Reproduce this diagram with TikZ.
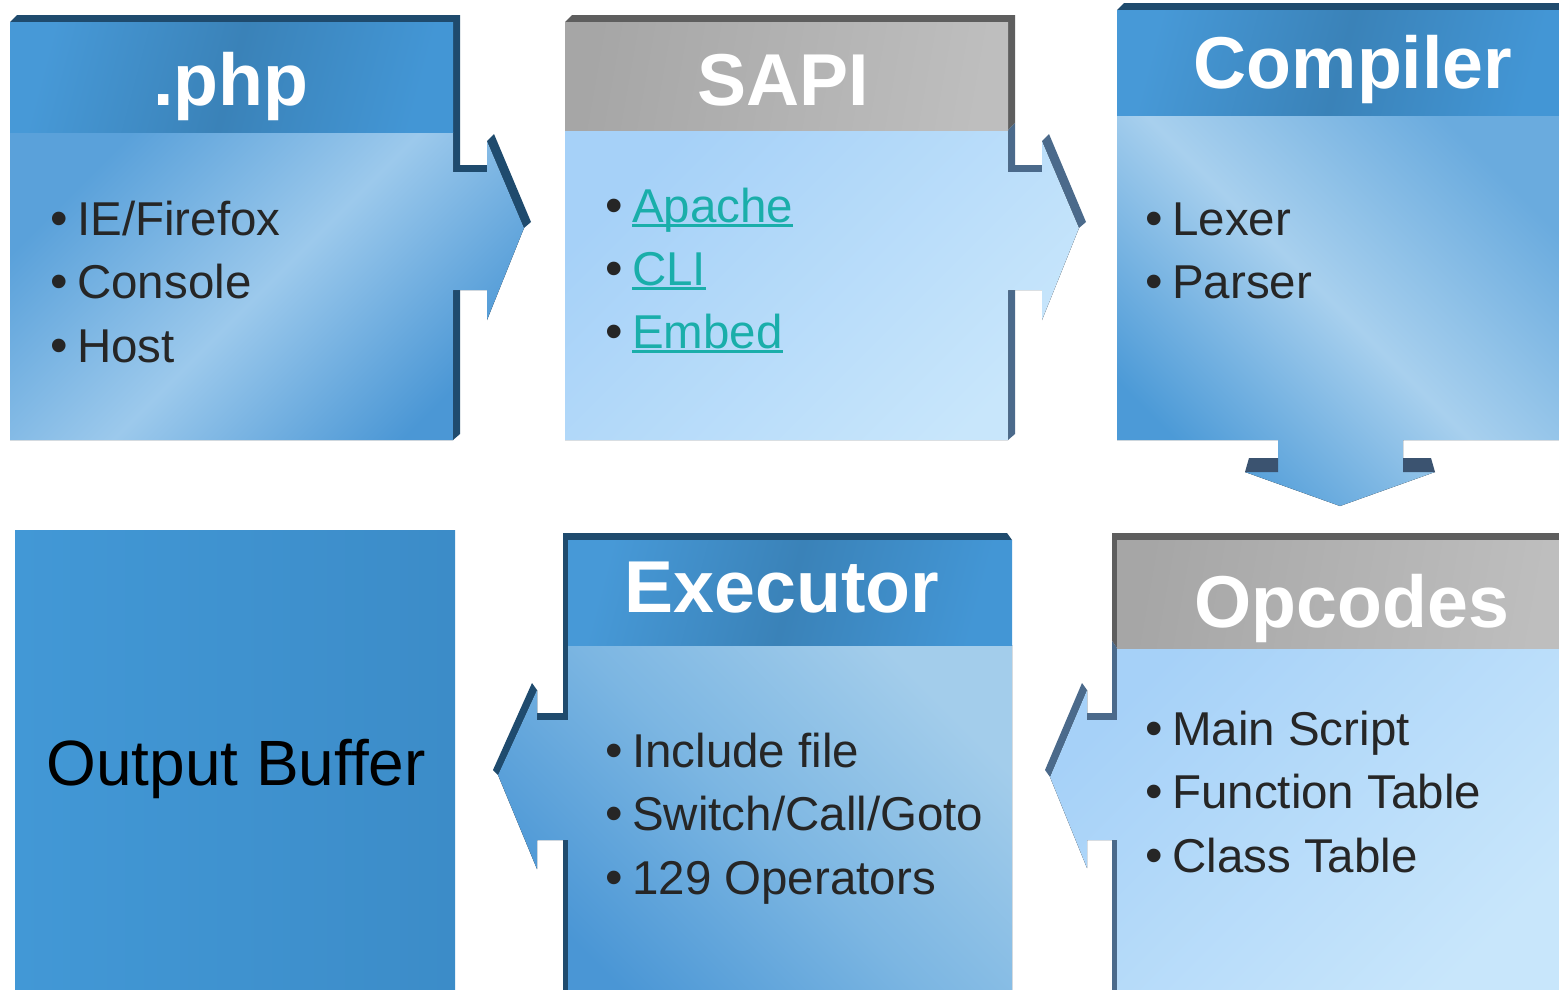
\documentclass[tikz,border=0pt]{standalone}
\usepackage{fontspec}
\setmainfont{Liberation Sans}
\definecolor{txt}{HTML}{262626}
\definecolor{lnkc}{HTML}{1AAEAA}
\definecolor{navy}{HTML}{1F4B6E}
\definecolor{bgray}{HTML}{4B6A8B}
\definecolor{dgray}{HTML}{5E5E5E}
\definecolor{barc}{HTML}{3B5370}
\definecolor{HL}{HTML}{4799D7}
\definecolor{HD}{HTML}{3A82B8}
\definecolor{HL2}{HTML}{4396D5}
\definecolor{GL}{HTML}{A6A6A6}
\definecolor{GR}{HTML}{BEBEBE}
\definecolor{PA}{HTML}{A6D1F8}
\definecolor{PB}{HTML}{C8E6FB}
\definecolor{B1a}{HTML}{5AA1DA}
\definecolor{B1m}{HTML}{9CC9EC}
\definecolor{B1b}{HTML}{4B97D5}
\definecolor{B3a}{HTML}{6AABDE}
\definecolor{B3m}{HTML}{A8D0EE}
\definecolor{B3b}{HTML}{4C9AD7}
\definecolor{B5a}{HTML}{A3CDEB}
\definecolor{B5m}{HTML}{7CB6E2}
\definecolor{B5b}{HTML}{4A96D5}
\definecolor{OBa}{HTML}{4298D6}
\definecolor{OBb}{HTML}{3C8CC8}
\newcommand\lnk[1]{\setbox0\hbox{#1}\rlap{\rule[-5pt]{\wd0}{2.6pt}}\box0}
\begin{document}
\begin{tikzpicture}[x=1pt,y=-1pt,
  item/.style={anchor=base west, inner sep=0pt, text=txt, font=\fontsize{47.5}{47.5}\selectfont},
  bul/.style={anchor=base west, inner sep=0pt, text=txt, font=\fontsize{50}{50}\selectfont},
  ttl/.style={anchor=base, inner sep=0pt, text=white, font=\fontsize{73.5}{73.5}\selectfont\bfseries},
  bhdr/.style={left color=HL, right color=HL2, middle color=HD, shading angle=75},
  ghdr/.style={left color=GL, right color=GR, shading angle=80},
  pale/.style={top color=PA, bottom color=PB, shading angle=45},
]
\path[use as bounding box, fill=white] (0,0) rectangle (1559,989);
\begin{scope}
\clip (0,0) rectangle (1559,989);

% ---------- Box 1 : .php ----------
\fill[navy] (10,22) -- (17,15) -- (460,15) -- (460,165) -- (487,165) -- (487,141) -- (494,134) -- (531,222) -- (524,228) -- (453,228) -- (453,22) -- cycle;
\fill[navy] (453,290) -- (460,290) -- (460,434) -- (453,440) -- cycle;
\fill[top color=B1a, bottom color=B1b, middle color=B1m, shading angle=45]
  (10,132) -- (453,132) -- (453,172) -- (487,172) -- (487,141) -- (524,228) -- (487,320) -- (487,290) -- (453,290) -- (453,440) -- (10,440) -- cycle;
\fill[bhdr] (10,22) rectangle (453,132);
\node[ttl] (t1) at (231,105) {.php};
\node[bul] (b11) at (50,235) {•};
\node[item] (i11) at (77,235) {IE/Firefox};
\node[bul] (b12) at (50,298) {•};
\node[item] (i12) at (77,298) {Console};
\node[bul] (b13) at (50,362) {•};
\node[item] (i13) at (77,362) {Host};

% ---------- Box 2 : SAPI ----------
\fill[dgray] (565,22) -- (572,15) -- (1015,15) -- (1015,123) -- (1008,130) -- (1008,22) -- cycle;
\fill[bgray] (1008,130) -- (1015,123) -- (1015,165) -- (1042,165) -- (1042,141) -- (1049,134) -- (1086,222) -- (1079,228) -- (1008,228) -- cycle;
\fill[bgray] (1008,290) -- (1015,290) -- (1015,434) -- (1008,440) -- cycle;
\fill[pale] (565,130) -- (1008,130) -- (1008,172) -- (1042,172) -- (1042,141) -- (1079,228) -- (1042,320) -- (1042,290) -- (1008,290) -- (1008,440) -- (565,440) -- cycle;
\fill[ghdr] (565,22) rectangle (1008,130);
\node[ttl] (t2) at (783,105) {SAPI};
\node[bul] (b21) at (605,222) {•};
\node[item, text=lnkc] (i21) at (632,222) {\lnk{Apache}};
\node[bul] (b22) at (605,285) {•};
\node[item, text=lnkc] (i22) at (632,285) {\lnk{CLI}};
\node[bul] (b23) at (605,348) {•};
\node[item, text=lnkc] (i23) at (632,348) {\lnk{Embed}};

% ---------- Box 3 : Compiler ----------
\fill[navy] (1117,10) -- (1124,3) -- (1565,3) -- (1565,10) -- cycle;
\fill[top color=B3a, bottom color=B3b, middle color=B3m, shading angle=-45]
  (1117,115) -- (1565,115) -- (1565,440) -- (1403,440) -- (1403,472) -- (1435,472) -- (1340,506) -- (1245,472) -- (1278,472) -- (1278,440) -- (1117,440) -- cycle;
\fill[barc] (1245,472) -- (1249,458) -- (1278,458) -- (1278,472) -- cycle;
\fill[barc] (1403,458) -- (1431,458) -- (1435,472) -- (1403,472) -- cycle;
\fill[bhdr] (1117,10) rectangle (1565,115);
\node[ttl] (t3) at (1353,88) {Compiler};
\node[bul] (b31) at (1145,235) {•};
\node[item] (i31) at (1172,235) {Lexer};
\node[bul] (b32) at (1145,298) {•};
\node[item] (i32) at (1172,298) {Parser};

% ---------- Box 4 : Output Buffer ----------
\fill[left color=OBa, right color=OBb] (15,530) rectangle (455,995);
\node[anchor=base, inner sep=0pt, text=black, font=\fontsize{64}{64}\selectfont] (ob) at (236,785) {Output Buffer};

% ---------- Box 5 : Executor ----------
\fill[navy] (1012,540) -- (1007,533) -- (563,533) -- (563,713) -- (537,713) -- (537,690) -- (532,683) -- (493,770) -- (498,775) -- (568,775) -- (568,540) -- cycle;
\fill[navy] (563,840) -- (568,840) -- (568,995) -- (563,995) -- cycle;
\fill[top color=B5a, bottom color=B5b, middle color=B5m, shading angle=-45]
  (568,645) -- (1012,645) -- (1012,995) -- (568,995) -- (568,840) -- (537,840) -- (537,869) -- (498,775) -- (537,690) -- (537,720) -- (568,720) -- cycle;
\fill[bhdr] (568,540) rectangle (1012,645);
\node[ttl] (t5) at (782,612) {Executor};
\node[bul] (b51) at (605,767) {•};
\node[item] (i51) at (632,767) {Include file};
\node[bul] (b52) at (605,830) {•};
\node[item] (i52) at (632,830) {Switch/Call/Goto};
\node[bul] (b53) at (605,894) {•};
\node[item] (i53) at (632,894) {129 Operators};

% ---------- Box 6 : Opcodes ----------
\fill[dgray] (1565,540) -- (1560,533) -- (1112,533) -- (1112,641) -- (1117,648) -- (1117,540) -- cycle;
\fill[bgray] (1117,648) -- (1112,641) -- (1112,713) -- (1087,713) -- (1087,690) -- (1082,683) -- (1045,770) -- (1050,777) -- (1117,777) -- cycle;
\fill[bgray] (1112,840) -- (1117,840) -- (1117,995) -- (1112,995) -- cycle;
\fill[pale] (1117,648) -- (1565,648) -- (1565,995) -- (1117,995) -- (1117,840) -- (1087,840) -- (1087,868) -- (1050,777) -- (1087,690) -- (1087,720) -- (1117,720) -- cycle;
\fill[ghdr] (1117,540) rectangle (1565,648);
\node[ttl] (t6) at (1352,627) {Opcodes};
\node[bul] (b61) at (1145,745) {•};
\node[item] (i61) at (1172,745) {Main Script};
\node[bul] (b62) at (1145,808) {•};
\node[item] (i62) at (1172,808) {Function Table};
\node[bul] (b63) at (1145,872) {•};
\node[item] (i63) at (1172,872) {Class Table};
\end{scope}
\end{tikzpicture}
\end{document}
